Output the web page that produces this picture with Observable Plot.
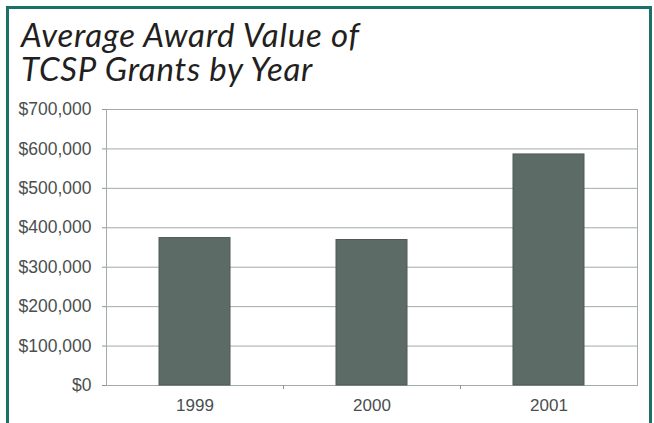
<!DOCTYPE html>
<html>
<head>
<meta charset="utf-8">
<script src="https://cdn.jsdelivr.net/npm/d3@7"></script>
<script src="https://cdn.jsdelivr.net/npm/@observablehq/plot@0.6"></script>
<style>
  html, body { margin: 0; padding: 0; background: #fff; }
  #wrap { position: relative; width: 654px; height: 423px; overflow: hidden; background: #fff; }
  #border { position: absolute; left: 6px; top: 6px; width: 640px; height: 440px;
            border: 3px solid #1d6f69; border-bottom: none; box-sizing: content-box; }
  .title { position: absolute; left: 21px; font-family: Lato, "Open Sans", sans-serif;
           font-style: italic; font-weight: 400; font-size: 33px; line-height: 34px; color: #231f20;
           letter-spacing: 0.75px; white-space: nowrap; }
  #t1 { top: 17px; }
  #t2 { top: 51px; }
  #chart { position: absolute; left: 0; top: 99px; }
</style>
</head>
<body>
<div id="wrap">
  <div id="border"></div>
  <div class="title" id="t1">Average Award Value of</div>
  <div class="title" id="t2">TCSP Grants by Year</div>
  <div id="chart"></div>
</div>
<script>
const years = ["1999", "2000", "2001"];
const values = [374000, 369000, 586000];
const yTicks = [0, 100000, 200000, 300000, 400000, 500000, 600000, 700000];

const data = years.map((y, i) => ({year: y, value: values[i]}));

const W = 654, H = 324, mL = 106, mR = 17, mT = 10, mB = 38;
const step = (W - mL - mR) / 3;

const plot = Plot.plot({
  width: W, height: H,
  marginLeft: mL, marginRight: mR, marginTop: mT, marginBottom: mB,
  style: {fontFamily: "'Liberation Sans', Arial, sans-serif", fontSize: "17px", color: "#4a4f4e", background: "transparent"},
  x: {domain: years, paddingInner: 0.6, paddingOuter: 0.3},
  y: {domain: [0, 700000]},
  marks: [
    Plot.ruleY(yTicks, {stroke: "#a3aba8", strokeWidth: 1}),
    Plot.frame({stroke: "#a3aba8", strokeWidth: 1}),
    Plot.barY(data, {x: "year", y: "value", fill: "#5d6b66", stroke: "#4f5b57", strokeWidth: 1}),
    Plot.axisY({ticks: yTicks, tickFormat: d3.format("$,"), tickSize: 4, tickPadding: 11, stroke: "#8f9894", fontSize: 17.5, label: null}),
    Plot.axisX({ticks: years.slice(1), tickSize: 4, text: null, dx: -step / 2, stroke: "#8f9894", label: null}),
    Plot.axisX({tickSize: 0, tickPadding: 13, fontSize: 17, label: null})
  ]
});
document.getElementById("chart").appendChild(plot);
</script>
</body>
</html>
